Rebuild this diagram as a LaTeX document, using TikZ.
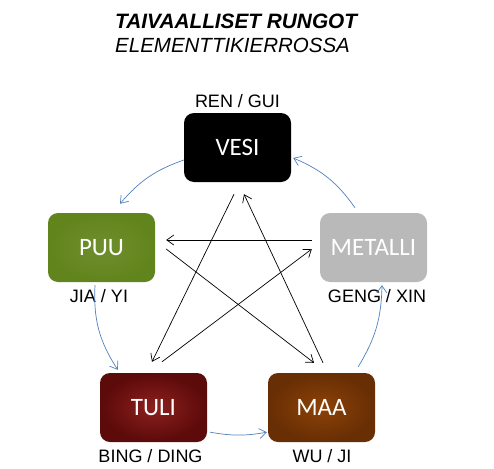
\documentclass[tikz,border=0pt]{standalone}
\usepackage{fontspec}
\setmainfont{Liberation Sans}
\newfontfamily\boxfont{Carlito}
\usepackage{xcolor}
\usetikzlibrary{arrows.meta}

\definecolor{genblue}{RGB}{79,129,189}
\definecolor{puugreen}{RGB}{98,132,28}
\definecolor{metalgray}{RGB}{185,185,185}
\definecolor{tuliin}{RGB}{140,32,30}
\definecolor{tuliout}{RGB}{92,10,10}
\definecolor{maain}{RGB}{140,66,8}
\definecolor{maaout}{RGB}{104,46,4}

\tikzset{
  elem/.style={rounded corners=10pt, minimum width=107pt, minimum height=69pt,
    inner sep=0pt, text=white, font=\boxfont\fontsize{25}{28}\selectfont},
  genarrow/.style={draw=genblue, line width=0.7pt, -{Straight Barb[length=7pt,width=10pt]}},
  ctrlarrow/.style={draw=black, line width=0.7pt, -{Straight Barb[length=7pt,width=10pt]}},
  lbl/.style={anchor=base, inner sep=0pt, font=\fontsize{18}{22}\selectfont}
}

\begin{document}
\begin{tikzpicture}[x=1pt,y=-1pt]
\useasboundingbox (0,0) rectangle (494,468);

% title
\node[anchor=base west, inner sep=0pt, font=\fontsize{20.8}{24}\selectfont\bfseries\itshape] (title) at (115,29) {TAIVAALLISET RUNGOT};
\node[anchor=base west, inner sep=0pt, font=\fontsize{20.5}{24}\selectfont\itshape] (subtitle) at (115,53) {ELEMENTTIKIERROSSA};

% elements
\node[elem, fill=black] (vesi) at (237.5,147.5) {VESI};
\node[elem, inner color=puugreen!92!white, outer color=puugreen] (puu) at (101.5,247.5) {PUU};
\node[elem, fill=metalgray] (metalli) at (373.5,247.5) {METALLI};
\node[elem, inner color=tuliin, outer color=tuliout] (tuli) at (153.5,407.5) {TULI};
\node[elem, inner color=maain, outer color=maaout] (maa) at (321.5,407.5) {MAA};

% stems
\node[lbl] (ltop) at (237.5,107) {REN / GUI};
\node[lbl] (lpuu) at (99,302) {JIA / YI};
\node[lbl] (lmetalli) at (377,302) {GENG / XIN};
\node[lbl] (ltuli) at (150.5,462) {BING / DING};
\node[lbl] (lmaa) at (322,462) {WU / JI};

% generating cycle
\draw[genarrow] ([yshift=-12.5pt]vesi.west) to[bend right=15] ([xshift=18.5pt,yshift=9pt]puu.north);
\draw[genarrow] ([xshift=-6.5pt,yshift=-3pt]puu.south) to[bend right=18] ([xshift=18pt,yshift=3pt]tuli.north west);
\draw[genarrow] ([xshift=3pt,yshift=10pt]tuli.south east) to[bend right=10] ([xshift=-1pt,yshift=10pt]maa.south west);
\draw[genarrow] ([xshift=-17pt,yshift=6pt]maa.north east) to[bend right=15] ([xshift=8.5pt,yshift=-3pt]metalli.south);
\draw[genarrow] ([xshift=-18.5pt,yshift=5pt]metalli.north) to[bend right=16] ([xshift=2pt,yshift=-10.5pt]vesi.east);

% controlling cycle
\draw[ctrlarrow] ([xshift=-3.5pt,yshift=-12pt]vesi.south) -- ([xshift=-1.5pt,yshift=11pt]tuli.north);
\draw[ctrlarrow] ([xshift=8.5pt,yshift=11pt]tuli.north) -- ([xshift=-8pt,yshift=-1.5pt]metalli.west);
\draw[ctrlarrow] ([xshift=-8pt,yshift=7.5pt]metalli.west) -- ([xshift=11pt,yshift=7.5pt]puu.east);
\draw[ctrlarrow] ([xshift=11pt,yshift=-1.5pt]puu.east) -- ([xshift=-7.5pt,yshift=10pt]maa.north);
\draw[ctrlarrow] ([xshift=1.5pt,yshift=10pt]maa.north) -- ([xshift=6.5pt,yshift=-12pt]vesi.south);
\end{tikzpicture}
\end{document}
